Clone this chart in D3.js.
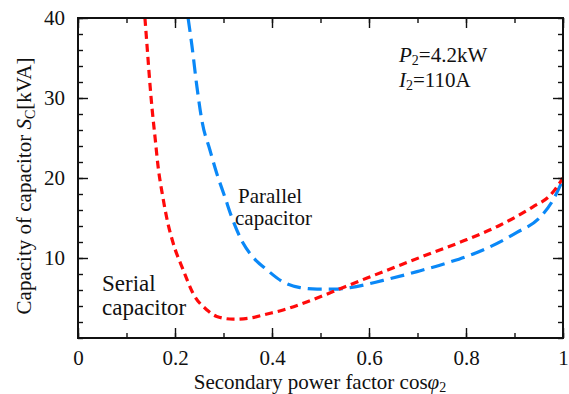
<!DOCTYPE html>
<html><head><meta charset="utf-8">
<script src="https://cdn.jsdelivr.net/npm/d3@7"></script>
</head><body style="margin:0;background:#fff"><svg id="c" width="569" height="394"></svg>
<script>
const serialX = [0.138,0.143,0.148,0.153,0.159,0.165,0.175,0.183,0.196,0.217,0.237,0.266,0.286,0.32,0.355,0.39,0.423,0.458,0.493,0.526,0.596,0.664,0.732,0.802,0.870,0.938,0.973,1.0];
const serialY = [40,36,32,28.5,25,21.5,17.6,15,11.9,8.5,5.6,3.5,2.7,2.35,2.5,3.0,3.5,4.2,5.0,5.8,7.5,9.1,10.7,12.3,14.1,16.4,17.8,20];
const parallelX = [0.227,0.235,0.245,0.256,0.272,0.286,0.303,0.317,0.34,0.361,0.39,0.423,0.458,0.493,0.526,0.561,0.629,0.699,0.767,0.835,0.905,0.953,0.979,1.0];
const parallelY = [40,36.5,31.5,27,23.5,20.6,17.6,15.1,11.9,10.1,8.5,7.0,6.3,6.1,6.1,6.3,7.2,8.3,9.5,11,13.2,15.1,17.2,19.8];
const xTicks = [0,0.2,0.4,0.6,0.8,1];
const xTickLabels = ["0","0.2","0.4","0.6","0.8","1"];
const yTicks = [10,20,30,40];
const yTickLabels = ["10","20","30","40"];

const FONT = "Liberation Serif";
const fstyle = s => `font-family:'Liberation Serif',serif !important;font-size:${s}px`;
const svg = d3.select("#c");
const L=78,R=563,T=18,B=338;
const x = d3.scaleLinear().domain([0,1]).range([L,R]);
const y = d3.scaleLinear().domain([0,40]).range([B,T]);

svg.append("defs").append("clipPath").attr("id","clip").append("rect")
  .attr("x",L).attr("y",T).attr("width",R-L).attr("height",B-T);

const line = d3.line().x(d=>x(d[0])).y(d=>y(d[1])).curve(d3.curveMonotoneX);
const g = svg.append("g").attr("clip-path","url(#clip)");
g.append("path").datum(parallelX.map((v,i)=>[v,parallelY[i]]))
  .attr("d",line).attr("fill","none").attr("stroke","#0a88f7").attr("stroke-width",3.2)
  .attr("stroke-dasharray","14,7");
g.append("path").datum(serialX.map((v,i)=>[v,serialY[i]]))
  .attr("d",line).attr("fill","none").attr("stroke","#ff0a0a").attr("stroke-width",3.2)
  .attr("stroke-dasharray","8,5");

// axes with inward ticks
const minorX = d3.range(0,1.0001,0.1);
const minorY = d3.range(0,40.001,2);
const axBot = d3.axisBottom(x).tickValues(minorX).tickSize(-5).tickFormat("");
const axBotMaj = d3.axisBottom(x).tickValues(xTicks).tickSize(-10).tickFormat((d,i)=>xTickLabels[i]).tickPadding(12);
const axTop = d3.axisTop(x).tickValues(minorX).tickSize(-5).tickFormat("");
const axTopMaj = d3.axisTop(x).tickValues(xTicks).tickSize(-10).tickFormat("");
const axLeft = d3.axisLeft(y).tickValues(minorY).tickSize(-5).tickFormat("");
const axLeftMaj = d3.axisLeft(y).tickValues(yTicks).tickSize(-10).tickFormat((d,i)=>yTickLabels[i]).tickPadding(13);
const axRight = d3.axisRight(y).tickValues(minorY).tickSize(-5).tickFormat("");
const axRightMaj = d3.axisRight(y).tickValues([10,20,30]).tickSize(-10).tickFormat("");
[[axBot,`translate(0,${B})`],[axBotMaj,`translate(0,${B})`],[axTop,`translate(0,${T})`],[axTopMaj,`translate(0,${T})`],
 [axLeft,`translate(${L},0)`],[axLeftMaj,`translate(${L},0)`],[axRight,`translate(${R},0)`],[axRightMaj,`translate(${R},0)`]].forEach(([a,t])=>{
  const gg = svg.append("g").attr("transform",t).call(a).attr("font-family",FONT).attr("font-size",21);
  gg.select(".domain").remove();
  gg.selectAll("line").attr("stroke","#111").attr("stroke-width",1.4);
  gg.selectAll("text").attr("font-family",FONT).attr("font-size",21).attr("fill","#111").attr("style",fstyle(21));
});
svg.append("rect").attr("x",L).attr("y",T).attr("width",R-L).attr("height",B-T)
  .attr("fill","none").attr("stroke","#111").attr("stroke-width",2);

function txt(xp,yp,size){
  return svg.append("text").attr("x",xp).attr("y",yp).attr("font-family",FONT).attr("font-size",size)
    .attr("fill","#111").attr("style",fstyle(size));
}
// axis titles
const xt = txt(320,389,21).attr("text-anchor","middle");
xt.append("tspan").text("Secondary power factor cos");
xt.append("tspan").attr("font-style","italic").text("φ");
xt.append("tspan").attr("font-size",14).attr("style","font-size:14px").attr("dy",3).text("2");

const yt = txt(0,0,21).attr("transform","translate(31,186) rotate(-90)").attr("text-anchor","middle");
yt.append("tspan").text("Capacity of capacitor ");
yt.append("tspan").attr("font-style","italic").text("S");
yt.append("tspan").attr("font-size",14).attr("style","font-size:14px").attr("dy",4).text("C");
yt.append("tspan").attr("dy",-4).text("[kVA]");

// annotations
const a1 = txt(399,62,21);
a1.append("tspan").attr("font-style","italic").text("P");
a1.append("tspan").attr("font-size",14).attr("style","font-size:14px").attr("dy",3).text("2");
a1.append("tspan").attr("dy",-3).text("=4.2kW");
const a2 = txt(399,87,21);
a2.append("tspan").attr("font-style","italic").text("I");
a2.append("tspan").attr("font-size",14).attr("style","font-size:14px").attr("dy",3).text("2");
a2.append("tspan").attr("dy",-3).text("=110A");

txt(238,203,21).text("Parallel");
txt(235,225,21).text("capacitor");
txt(102,291,23).text("Serial");
txt(102,315,23).text("capacitor");
</script></body></html>
